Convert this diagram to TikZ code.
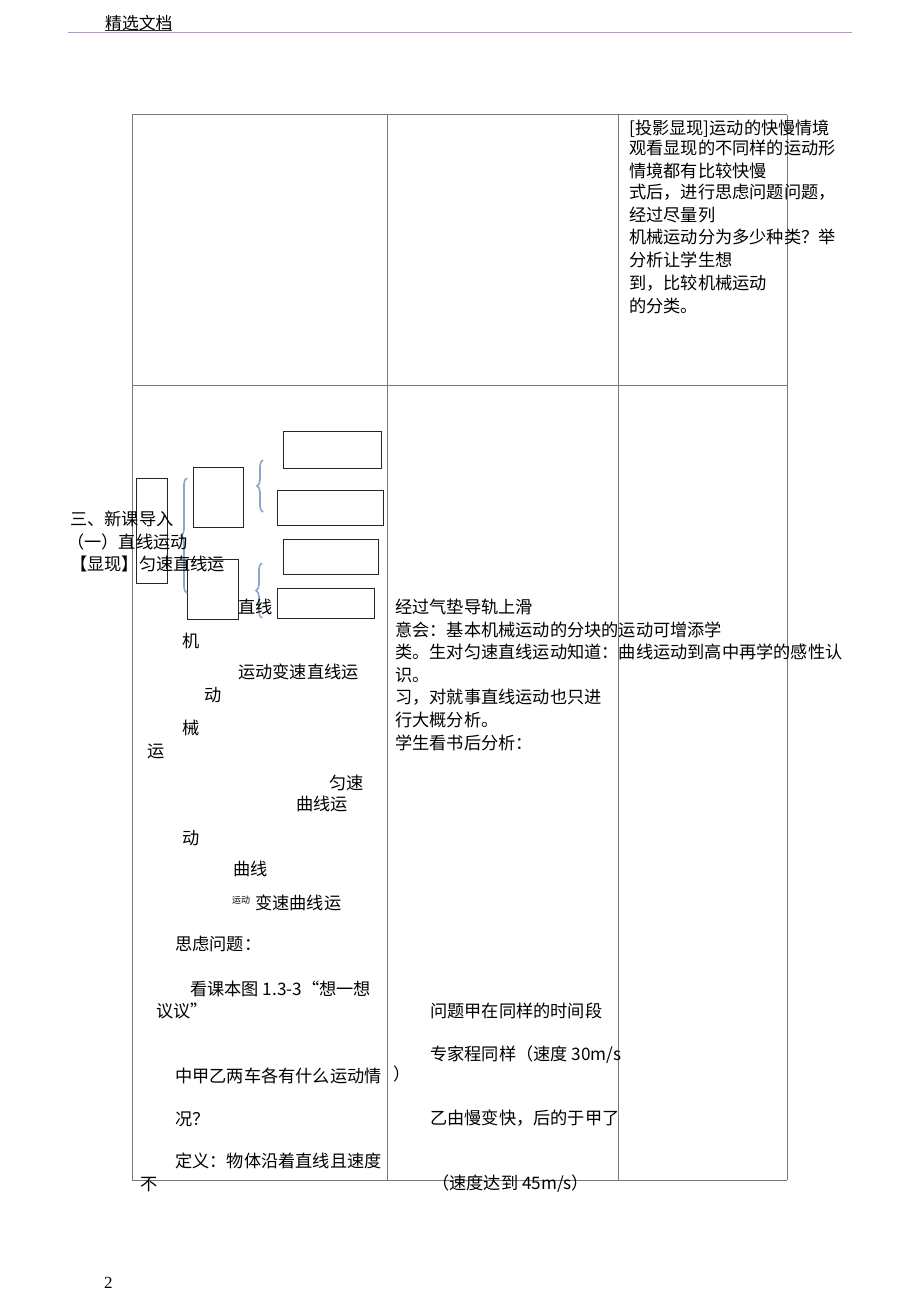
\documentclass[tikz,border=0pt]{standalone}
\usepackage{fontspec}
\setmainfont{Liberation Serif}
\newfontfamily\cjk{Noto Sans CJK SC}
\usetikzlibrary{decorations.pathreplacing}
\definecolor{hdrline}{RGB}{175,155,185}
\definecolor{gridc}{RGB}{120,120,125}
\definecolor{bracec}{RGB}{140,165,200}
\begin{document}
\begin{tikzpicture}[x=1pt,y=-1pt,
  txt/.style={anchor=west,inner sep=0pt,yshift=-3.5pt,font=\cjk\fontsize{17.2}{20}\selectfont,text height=0.88em,text depth=0.12em},
  small/.style={anchor=west,inner sep=0pt,yshift=-3pt,font=\cjk\fontsize{9}{10}\selectfont,text height=0.88em,text depth=0.12em},
  gridline/.style={draw=gridc,line width=1pt},
  box/.style={draw=black!85,line width=1pt},
  brc/.style={draw=bracec,line width=1.6pt,decorate,decoration={brace,amplitude=6pt}}]
\useasboundingbox[fill=white] (0,0) rectangle (920,1303);

% header
\node[txt,font=\cjk\fontsize{16.8}{18}\selectfont] (hdr) at (105,22) {精选文档};
\draw[black!80,line width=0.8pt] (105,30) -- (172,30);
\draw[hdrline,line width=1pt] (68,33) -- (852,33);

% table grid
\draw[gridline] (132,115) -- (787,115);
\draw[gridline] (132,385) -- (787,385);
\draw[gridline] (132,1180) -- (787,1180);
\draw[gridline] (132,115) -- (132,1180);
\draw[gridline] (387,115) -- (387,1180);
\draw[gridline] (618,115) -- (618,1180);
\draw[gridline] (787,115) -- (787,1180);

% top right cell
\node[txt] (t1) at (629,127) {[投影显现]运动的快慢情境};
\node[txt] (t2) at (629,147) {观看显现的不同样的运动形};
\node[txt] (t3) at (629,170) {情境都有比较快慢};
\node[txt] (t4) at (629,191) {式后，进行思虑问题问题，};
\node[txt] (t5) at (629,214) {经过尽量列};
\node[txt] (t6) at (629,236) {机械运动分为多少种类？举};
\node[txt] (t7) at (629,259) {分析让学生想};
\node[txt] (t8) at (629,282) {到，比较机械运动};
\node[txt] (t9) at (629,305) {的分类。};

% boxes and braces
\draw[box] (136,478) rectangle (167,583);
\draw[box] (193,467) rectangle (243,527);
\draw[box] (187,559) rectangle (238,619);
\draw[box] (283,431) rectangle (381,468);
\draw[box] (277,490) rectangle (383,525);
\draw[box] (283,539) rectangle (378,574);
\draw[box] (277,588) rectangle (374,618);
\draw[brc] (187,593) -- (187,478);
\draw[brc] (263,512) -- (263,460);
\draw[brc] (262,618) -- (262,563);

% middle left text
\node[txt] (m1) at (70,518) {三、新课导入};
\node[txt] (m2) at (67,541) {（一）直线运动};
\node[txt] (m3) at (70,563) {【显现】匀速直线运};
\node[txt] (m4) at (238,606) {直线};
\node[txt] (m5) at (182,640) {机};
\node[txt] (m6) at (238,671) {运动变速直线运};
\node[txt] (m7) at (204,694) {动};
\node[txt] (m8) at (182,727) {械};
\node[txt] (m9) at (147,750) {运};
\node[txt] (m10) at (329,782) {匀速};
\node[txt] (m11) at (296,803) {曲线运};
\node[txt] (m12) at (182,837) {动};
\node[txt] (m13) at (233,868) {曲线};
\node[small] (m14) at (232,897) {运动};
\node[txt] (m15) at (255,902) {变速曲线运};
\node[txt] (m16) at (175,943) {思虑问题：};
\node[txt] (m17) at (190,988) {看课本图 1.3-3“想一想};
\node[txt] (m18) at (156,1010) {议议”};
\node[txt] (m19) at (175,1075) {中甲乙两车各有什么运动情};
\node[txt] (m20) at (175,1118) {况？};
\node[txt] (m21) at (175,1160) {定义：物体沿着直线且速度};
\node[txt] (m22) at (140,1183) {不};

% middle column text
\node[txt] (c1) at (395,606) {经过气垫导轨上滑};
\node[txt] (c2) at (395,629) {意会：基本机械运动的分块的运动可增添学};
\node[txt] (c3) at (395,651) {类。生对匀速直线运动知道：曲线运动到高中再学的感性认};
\node[txt] (c4) at (395,674) {识。};
\node[txt] (c5) at (395,696) {习，对就事直线运动也只进};
\node[txt] (c6) at (395,719) {行大概分析。};
\node[txt] (c7) at (395,742) {学生看书后分析：};
\node[txt] (c8) at (430,1010) {问题甲在同样的时间段};
\node[txt] (c9) at (430,1053) {专家程同样（速度 30m/s};
\node[txt] (c10) at (393,1073) {）};
\node[txt] (c11) at (430,1117) {乙由慢变快，后的于甲了};
\node[txt] (c12) at (432,1182) {（速度达到 45m/s）};

% page number
\node[anchor=west,inner sep=0pt,font=\fontsize{17}{18}\selectfont] (pg) at (104,1283) {2};
\end{tikzpicture}
\end{document}
